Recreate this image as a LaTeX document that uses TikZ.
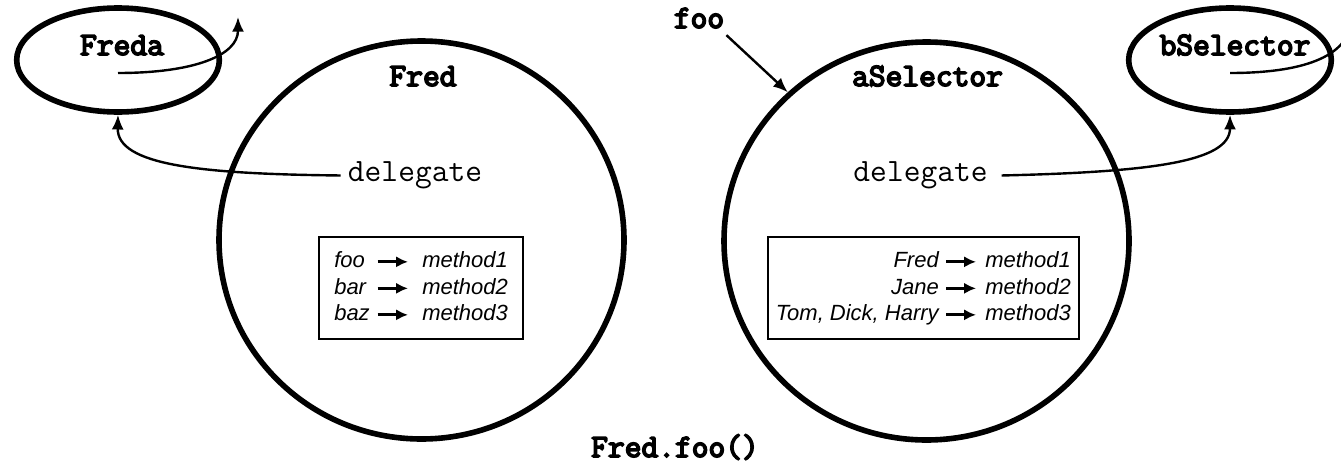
\documentclass[tikz,border=0pt]{standalone}
\usepackage{fontspec}
\setmainfont{Liberation Serif}
\setsansfont{Liberation Sans}
\newfontfamily\heavymono[FakeBold=5]{Latin Modern Mono}
\usetikzlibrary{shapes.geometric,arrows.meta}

\begin{document}
\begin{tikzpicture}[x=0.75pt,y=-0.75pt,
  objcircle/.style={draw,ellipse,line width=4.2pt,minimum width=303.75pt,minimum height=298.5pt,inner sep=0pt},
  proxy/.style={draw,ellipse,line width=4.2pt,minimum width=152pt,minimum height=78pt,inner sep=0pt},
  bigname/.style={font=\heavymono\fontsize{24.4}{24.4}\selectfont,inner sep=0pt,anchor=base},
  slot/.style={font=\ttfamily\fontsize{24.4}{24.4}\selectfont,anchor=base},
  maptable/.style={draw,line width=1.6pt,minimum width=#1,minimum height=76.5pt,inner sep=0pt},
  mapentry/.style={font=\sffamily\itshape\fontsize{16.5}{16.5}\selectfont,text height=12pt,text depth=3.5pt,inner ysep=0pt},
  lkey/.style={mapentry,inner xsep=0pt,text width=32.25pt,align=left,anchor=base west},
  lval/.style={mapentry,inner xsep=10.5pt,anchor=base west},
  rkey/.style={mapentry,inner xsep=5.25pt,anchor=base east},
  rval/.style={mapentry,inner xsep=6.75pt,anchor=base west},
  link/.style={line width=1.8pt,-{Latex[length=11pt,width=9pt]}},
  maps/.style={line width=2.2pt,-{Latex[length=9pt,width=8.5pt]}}
]
\useasboundingbox (0,0) rectangle (1341,464);
\clip (0,0) rectangle (1341,464);

% objects and their delegates
\node[objcircle] (fred) at (421.5,240) {};
\node[objcircle] (asel) at (926.5,241) {};
\node[proxy] (freda) at (118,60) {};
\node[proxy] (bsel) at (1230,60) {};

% names
\node[bigname] (fredt) at (423,86) {Fred};
\node[bigname] (aselt) at (927.5,86) {aSelector};
\node[bigname] (fredat) at (122,55) {Freda};
\node[bigname] (bselt) at (1235,55) {bSelector};
\node[bigname] (msg) at (699,28) {foo};
\node[bigname] (call) at (675,457) {Fred.foo()};

% delegate slots
\node[slot] (dl) at (415,181.7) {delegate};
\node[slot] (dr) at (920.5,181.7) {delegate};

% method tables
\node[maptable=153pt] (ltab) at (421,288) {};
\node[maptable=233.25pt] (rtab) at (923.5,288) {};

\node[lkey] (k1) at (334,267.5) {foo};
\node[lkey] (k2) at (334,294) {bar};
\node[lkey] (k3) at (334,320.5) {baz};
\node[lval] (v1) at (408,267.5) {method1};
\node[lval] (v2) at (408,294) {method2};
\node[lval] (v3) at (408,320.5) {method3};
\foreach \i in {1,2,3} \draw[maps] (k\i.east) -- (v\i.west);

\node[rkey] (rk1) at (946,267.5) {Fred};
\node[rkey] (rk2) at (946,294) {Jane};
\node[rkey] (rk3) at (946,320.5) {Tom, Dick, Harry};
\node[rval] (rv1) at (976,267.5) {method1};
\node[rval] (rv2) at (976,294) {method2};
\node[rval] (rv3) at (976,320.5) {method3};
\foreach \i in {1,2,3} \draw[maps] (rk\i.east) -- (rv\i.west);

% connectors
\coordinate (fredaout) at (238,17);
\coordinate (bselout) at (1352,5);
\draw[link] ([xshift=-2pt]dl.west) .. controls (200,174) and (117,165) .. (freda.south);
\draw[link] ([xshift=7pt]dr.east) .. controls (1150,172) and (1230,162) .. (bsel.south);
\draw[link] ([yshift=-9.75pt]freda.center) .. controls (195,73) and (238,55) .. (fredaout);
\draw[link] ([yshift=-9.75pt]bsel.center) .. controls (1300,73) and (1350,58) .. (bselout);
\draw[link] ([xshift=1.5pt,yshift=-5pt]msg.south east) -- (asel.133);
\end{tikzpicture}
\end{document}
